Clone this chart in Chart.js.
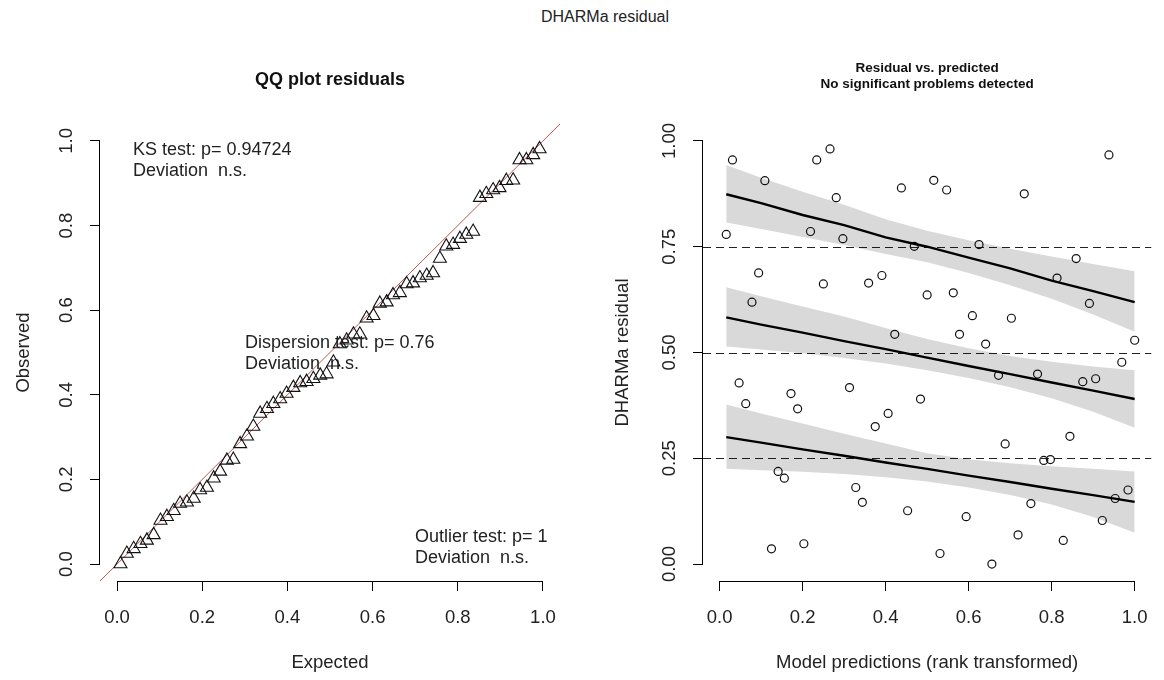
<!DOCTYPE html>
<html>
<head>
<meta charset="utf-8">
<title>DHARMa residual</title>
<script src="https://cdn.jsdelivr.net/npm/chart.js@4.4.0/dist/chart.umd.min.js"></script>
<style>
  html, body { margin: 0; padding: 0; background: #fff; }
  #wrap { position: relative; width: 1164px; height: 680px; overflow: hidden; }
  #wrap canvas { position: absolute; left: 0; top: 0; }
  #mainTitle {
    position: absolute; left: 455px; width: 300px; top: 8px;
    text-align: center; font: 16px "Liberation Sans", Arial, sans-serif; color: #222;
  }
</style>
</head>
<body>
<div id="wrap">
  <div id="mainTitle">DHARMa residual</div>
  <canvas id="qq" width="1164" height="680"></canvas>
  <canvas id="resid" width="1164" height="680"></canvas>
</div>
<script>
// ---- data ----
var unitTicks = [0, 0.2, 0.4, 0.6, 0.8, 1.0];
var unitTickLabels = ["0.0", "0.2", "0.4", "0.6", "0.8", "1.0"];
var residTicks = [0, 0.25, 0.5, 0.75, 1.0];
var residTickLabels = ["0.00", "0.25", "0.50", "0.75", "1.00"];

// QQ plot: expected uniform quantiles vs. sorted scaled residuals
var qqExpected = [
  0.008, 0.023, 0.039, 0.055, 0.070, 0.086, 0.102, 0.117, 0.133, 0.148,
  0.164, 0.180, 0.195, 0.211, 0.227, 0.242, 0.258, 0.273, 0.289, 0.305,
  0.320, 0.336, 0.352, 0.367, 0.383, 0.398, 0.414, 0.430, 0.445, 0.461,
  0.477, 0.492, 0.508, 0.523, 0.539, 0.555, 0.570, 0.586, 0.602, 0.617,
  0.633, 0.648, 0.664, 0.680, 0.695, 0.711, 0.727, 0.742, 0.758, 0.773,
  0.789, 0.805, 0.820, 0.836, 0.852, 0.867, 0.883, 0.898, 0.914, 0.930,
  0.945, 0.961, 0.977, 0.992
];
var qqObserved = [
  0.000, 0.025, 0.036, 0.048, 0.056, 0.069, 0.103, 0.112, 0.126, 0.143,
  0.146, 0.155, 0.175, 0.181, 0.203, 0.219, 0.245, 0.247, 0.284, 0.302,
  0.325, 0.356, 0.367, 0.379, 0.390, 0.403, 0.417, 0.428, 0.431, 0.438,
  0.446, 0.449, 0.477, 0.520, 0.529, 0.543, 0.543, 0.581, 0.587, 0.616,
  0.619, 0.636, 0.641, 0.662, 0.664, 0.676, 0.682, 0.688, 0.722, 0.751,
  0.755, 0.769, 0.779, 0.786, 0.866, 0.875, 0.884, 0.889, 0.906, 0.907,
  0.955, 0.955, 0.967, 0.981
];
var qqLineX = [-0.1, 1.1];
var qqLineY = [-0.1, 1.1];

// residual vs. rank-transformed prediction
var predRank = [
  0.016, 0.031, 0.047, 0.063, 0.078, 0.094, 0.109, 0.125, 0.141, 0.156,
  0.172, 0.188, 0.203, 0.219, 0.234, 0.250, 0.266, 0.281, 0.297, 0.313,
  0.328, 0.344, 0.359, 0.375, 0.391, 0.406, 0.422, 0.438, 0.453, 0.469,
  0.484, 0.500, 0.516, 0.531, 0.547, 0.563, 0.578, 0.594, 0.609, 0.625,
  0.641, 0.656, 0.672, 0.688, 0.703, 0.719, 0.734, 0.750, 0.766, 0.781,
  0.797, 0.813, 0.828, 0.844, 0.859, 0.875, 0.891, 0.906, 0.922, 0.938,
  0.953, 0.969, 0.984, 1.000
];
var residual = [
  0.779, 0.955, 0.428, 0.379, 0.619, 0.688, 0.906, 0.036, 0.219, 0.203,
  0.403, 0.367, 0.048, 0.786, 0.955, 0.662, 0.981, 0.866, 0.769, 0.417,
  0.181, 0.146, 0.664, 0.325, 0.682, 0.356, 0.543, 0.889, 0.126, 0.751,
  0.390, 0.636, 0.907, 0.025, 0.884, 0.641, 0.543, 0.112, 0.587, 0.755,
  0.520, 0.000, 0.446, 0.284, 0.581, 0.069, 0.875, 0.143, 0.449, 0.245,
  0.247, 0.676, 0.056, 0.302, 0.722, 0.431, 0.616, 0.438, 0.103, 0.967,
  0.155, 0.477, 0.175, 0.529
];

// quantile regression fits with confidence bands
var quantileLevels = [0.25, 0.5, 0.75];
var fitX = [0.016, 0.1, 0.2, 0.3, 0.4, 0.5, 0.6, 0.7, 0.8, 0.9, 1.0];
var fitQ75 = [0.874, 0.853, 0.825, 0.801, 0.772, 0.750, 0.724, 0.699, 0.670, 0.645, 0.619];
var bandQ75Hi = [0.943, 0.913, 0.880, 0.849, 0.815, 0.788, 0.765, 0.745, 0.727, 0.709, 0.692];
var bandQ75Lo = [0.807, 0.792, 0.773, 0.754, 0.733, 0.713, 0.688, 0.659, 0.627, 0.590, 0.549];
var fitQ50 = [0.583, 0.566, 0.547, 0.527, 0.508, 0.488, 0.468, 0.449, 0.429, 0.410, 0.390];
var bandQ50Hi = [0.654, 0.633, 0.609, 0.585, 0.558, 0.532, 0.510, 0.492, 0.478, 0.467, 0.458];
var bandQ50Lo = [0.514, 0.507, 0.498, 0.487, 0.474, 0.458, 0.440, 0.418, 0.392, 0.360, 0.322];
var fitQ25 = [0.300, 0.287, 0.271, 0.256, 0.240, 0.225, 0.209, 0.194, 0.178, 0.163, 0.147];
var bandQ25Hi = [0.377, 0.356, 0.332, 0.308, 0.285, 0.262, 0.248, 0.238, 0.231, 0.225, 0.219];
var bandQ25Lo = [0.225, 0.222, 0.218, 0.213, 0.205, 0.195, 0.181, 0.163, 0.141, 0.111, 0.074];

// test results printed inside the QQ panel
var qqNotes = [
  { x: 0.0375, y: 0.979, lines: ["KS test: p= 0.94724", "Deviation  n.s."] },
  { x: 0.3005, y: 0.522, lines: ["Dispersion test: p= 0.76", "Deviation  n.s."] },
  { x: 0.6996, y: 0.064, lines: ["Outlier test: p= 1", "Deviation  n.s."] }
];

// ---- helpers ----
var FONT = '"Liberation Sans", Arial, Helvetica, sans-serif';
var INK = "#222";

function toPoints(xs, ys) {
  return xs.map(function (x, i) { return { x: x, y: ys[i] }; });
}

function fixedTicks(values) {
  return function (scale) {
    scale.ticks = values.map(function (v) { return { value: v }; });
  };
}

// R-style axis line: only spans from the first to the last tick
function axisLines(xTicks, yTicks) {
  return {
    id: "axisLines",
    afterDraw: function (chart) {
      var ctx = chart.ctx, area = chart.chartArea;
      var xs = chart.scales.x, ys = chart.scales.y;
      var yb = Math.round(area.bottom) + 0.5;
      var xl = Math.round(area.left) - 0.5;
      ctx.save();
      ctx.strokeStyle = "#000";
      ctx.lineWidth = 1;
      ctx.beginPath();
      ctx.moveTo(xs.getPixelForValue(xTicks[0]), yb);
      ctx.lineTo(xs.getPixelForValue(xTicks[xTicks.length - 1]), yb);
      ctx.moveTo(xl, ys.getPixelForValue(yTicks[0]));
      ctx.lineTo(xl, ys.getPixelForValue(yTicks[yTicks.length - 1]));
      ctx.stroke();
      ctx.restore();
    }
  };
}

var notesPlugin = {
  id: "qqNotes",
  afterDatasetsDraw: function (chart) {
    var ctx = chart.ctx;
    ctx.save();
    ctx.font = "18px " + FONT;
    ctx.fillStyle = INK;
    ctx.textAlign = "left";
    ctx.textBaseline = "middle";
    qqNotes.forEach(function (n) {
      var px = chart.scales.x.getPixelForValue(n.x);
      var py = chart.scales.y.getPixelForValue(n.y);
      n.lines.forEach(function (t, i) { ctx.fillText(t, px, py + i * 21); });
    });
    ctx.restore();
  }
};

var refLinesPlugin = {
  id: "refLines",
  beforeDatasetsDraw: function (chart) {
    var ctx = chart.ctx, area = chart.chartArea;
    ctx.save();
    ctx.strokeStyle = "#222";
    ctx.lineWidth = 1;
    ctx.setLineDash([8, 5]);
    quantileLevels.forEach(function (q) {
      var y = Math.round(chart.scales.y.getPixelForValue(q)) + 0.5;
      ctx.beginPath();
      ctx.moveTo(area.left, y);
      ctx.lineTo(area.right, y);
      ctx.stroke();
    });
    ctx.restore();
  }
};

function xScale(title, ticks, labels) {
  return {
    type: "linear", min: -0.04, max: 1.04,
    afterBuildTicks: fixedTicks(ticks),
    afterFit: function (s) { s.height = 99; },
    border: { display: false },
    grid: { drawOnChartArea: false, drawTicks: true, tickLength: 10, tickColor: "#000", tickWidth: 1 },
    ticks: {
      autoSkip: false, maxRotation: 0, padding: 16, color: INK,
      font: { family: FONT, size: 18.5 },
      callback: function (v, i) { return labels[i]; }
    },
    title: { display: true, text: title, color: INK, font: { family: FONT, size: 18.5 }, padding: { top: 0, bottom: 6 } }
  };
}

function yScale(title, ticks, labels, width, labelPad, titlePad) {
  return {
    type: "linear", min: -0.04, max: 1.04,
    afterBuildTicks: fixedTicks(ticks),
    afterFit: function (s) { s.width = width; },
    border: { display: false },
    grid: { drawOnChartArea: false, drawTicks: true, tickLength: 10, tickColor: "#000", tickWidth: 1 },
    ticks: {
      autoSkip: false, minRotation: 90, maxRotation: 90, crossAlign: "center",
      padding: labelPad, color: INK,
      font: { family: FONT, size: 18.5 },
      callback: function (v, i) { return labels[i]; }
    },
    title: { display: true, text: title, color: INK, font: { family: FONT, size: 18.5 }, padding: { top: titlePad, bottom: 0 } }
  };
}

// ---- left panel: QQ plot ----
new Chart(document.getElementById("qq"), {
  type: "scatter",
  data: {
    datasets: [
      {
        data: toPoints(qqLineX, qqLineY),
        showLine: true, borderColor: "rgba(175,60,60,0.85)", borderWidth: 1,
        pointRadius: 0, order: 2
      },
      {
        data: toPoints(qqExpected, qqObserved),
        pointStyle: "triangle", pointRadius: 7.5, borderColor: "#111", borderWidth: 1.1,
        backgroundColor: "rgba(0,0,0,0)", order: 1
      }
    ]
  },
  options: {
    responsive: false, animation: false, events: [],
    layout: { padding: { left: 0, right: 604, top: 0, bottom: 0 } },
    plugins: {
      legend: { display: false }, tooltip: { enabled: false },
      title: {
        display: true, fullSize: false, text: "QQ plot residuals", color: "#111",
        font: { family: FONT, size: 18, weight: "bold" },
        padding: { top: 69, bottom: 33.4 }
      }
    },
    scales: {
      x: xScale("Expected", unitTicks, unitTickLabels),
      y: yScale("Observed", unitTicks, unitTickLabels, 100, 10.5, 13)
    }
  },
  plugins: [axisLines(unitTicks, unitTicks), notesPlugin]
});

// ---- right panel: residual vs. predicted ----
var bandFill = "rgba(0,0,0,0.15)";
var fitSets = [[fitQ75, bandQ75Hi, bandQ75Lo], [fitQ50, bandQ50Hi, bandQ50Lo], [fitQ25, bandQ25Hi, bandQ25Lo]];
var residSets = [
  {
    data: toPoints(predRank, residual),
    pointStyle: "circle", pointRadius: 4, borderColor: "#111", borderWidth: 1.2,
    backgroundColor: "rgba(0,0,0,0)", order: 3
  }
];
fitSets.forEach(function (f) {
  residSets.push({
    data: toPoints(fitX, f[1]), showLine: true, borderWidth: 0, pointRadius: 0,
    fill: "+1", backgroundColor: bandFill, order: 2
  });
  residSets.push({
    data: toPoints(fitX, f[2]), showLine: true, borderWidth: 0, pointRadius: 0,
    fill: false, order: 2
  });
  residSets.push({
    data: toPoints(fitX, f[0]), showLine: true, borderColor: "#000", borderWidth: 2.4,
    pointRadius: 0, fill: false, order: 1
  });
});

new Chart(document.getElementById("resid"), {
  type: "scatter",
  data: { datasets: residSets },
  options: {
    responsive: false, animation: false, events: [],
    layout: { padding: { left: 582, right: 4, top: 0, bottom: 0 } },
    plugins: {
      legend: { display: false }, tooltip: { enabled: false },
      title: {
        display: true, fullSize: false, color: "#111",
        text: ["Residual vs. predicted", "No significant problems detected"],
        font: { family: FONT, size: 13.5, weight: "bold", lineHeight: 1.2 },
        padding: { top: 60, bottom: 31.6 }
      }
    },
    scales: {
      x: xScale("Model predictions (rank transformed)", unitTicks, unitTickLabels),
      y: yScale("DHARMa residual", residTicks, residTickLabels, 121, 5.5, 30)
    }
  },
  plugins: [axisLines(unitTicks, residTicks), refLinesPlugin]
});
</script>
</body>
</html>
